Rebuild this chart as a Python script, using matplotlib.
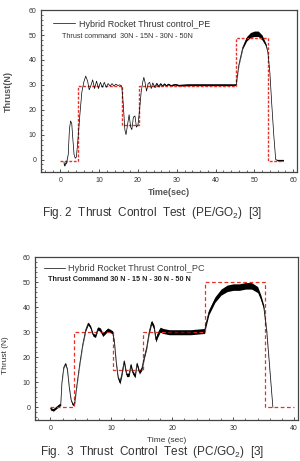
import numpy as np
import matplotlib.pyplot as plt

plt.rcParams['font.family'] = ['Liberation Sans', 'DejaVu Sans']
plt.rcParams['mathtext.fontset'] = 'custom'
plt.rcParams['mathtext.rm'] = 'Liberation Sans'

# Fig. 2 - PE/GO2 thrust
t_pe = [0.9, 1.0, 1.3, 1.6, 2.0, 2.3, 2.6, 2.9, 3.2, 3.5, 3.8, 4.1, 4.5, 5.0, 5.5,
        6.0, 6.5, 7.0, 7.4, 7.8, 8.3, 8.8, 9.3, 9.8, 10.3, 10.8, 11.3, 11.8, 12.3,
        12.8, 13.3, 13.8, 14.3, 14.8, 15.3, 15.8, 16.2, 16.6, 16.9, 17.3, 17.7,
        18.1, 18.4, 18.8, 19.2, 19.6, 20.0, 20.4, 20.8, 21.2, 21.5, 21.8, 22.2,
        22.6, 23.0, 23.4, 23.8, 24.3, 24.8, 25.3, 25.8, 26.3, 26.8, 27.3, 27.8,
        28.5, 29.5, 30.5, 33.0, 36.0, 39.0, 42.0, 45.3, 46.0, 47.0, 48.0, 49.0,
        50.0, 51.0, 52.0, 53.0, 53.5, 54.0, 54.5, 55.0, 55.5, 56.0, 57.5]
f_pe = [-1.0, -2.5, -1.5, -1.0, 2.0, 12.0, 15.5, 14.5, 8.0, 2.0, 0.5, 1.0, 8.0, 18.0,
        27.0, 31.0, 33.5, 31.5, 28.0, 29.5, 32.0, 28.5, 31.5, 28.5, 31.0, 29.0,
        31.0, 29.0, 30.5, 29.5, 30.5, 29.5, 30.3, 29.7, 30.0, 29.5, 22.0, 12.0,
        10.0, 14.0, 18.0, 13.0, 12.0, 17.0, 17.5, 13.0, 14.0, 20.0, 27.0, 31.0,
        33.0, 31.0, 27.5, 30.5, 31.0, 28.5, 30.8, 29.0, 30.6, 29.3, 30.5, 29.5,
        30.4, 29.6, 30.3, 29.7, 30.2, 29.8, 30.0, 30.0, 30.0, 30.0, 30.0, 38.0,
        45.0, 48.5, 50.0, 50.5, 50.5, 49.0, 46.0, 43.0, 35.0, 22.0, 10.0, 0.0,
        -0.3, -0.3]
# thickness of the noisy band around the trace
a_pe = [0.3, 0.3, 0.3, 0.2, 0, 0, 0, 0, 0, 0, 0, 0, 0, 0, 0,
        0, 0, 0, 0, 0, 0, 0, 0, 0, 0, 0, 0, 0, 0,
        0, 0, 0, 0, 0, 0, 0, 0, 0, 0, 0, 0,
        0, 0, 0, 0, 0, 0, 0, 0, 0, 0, 0, 0,
        0, 0, 0, 0, 0.2, 0.3, 0.3, 0.3, 0.3, 0.3, 0.3, 0.3,
        0.3, 0.3, 0.35, 0.35, 0.35, 0.35, 0.35, 0.3, 0.3, 0.5, 0.9, 1.0,
        1.1, 1.1, 1.0, 0.5, 0, 0, 0, 0, 0, 0.3, 0.3]
t_cmd_pe = [0, 4.5, 4.5, 15.8, 15.8, 20.3, 20.3, 45.3, 45.3, 53.5, 53.5, 57.5]
f_cmd_pe = [-0.5, -0.5, 29.5, 29.5, 14.0, 14.0, 29.5, 29.5, 49.0, 49.0, -0.5, -0.5]

# Fig. 3 - PC/GO2 thrust
t_pc = [0.0, 0.5, 1.0, 1.5, 1.7, 1.9, 2.2, 2.5, 2.8, 3.1, 3.4, 3.7, 4.0, 4.3, 4.8,
        5.3, 5.8, 6.2, 6.6, 7.0, 7.4, 7.8, 8.2, 8.6, 9.0, 9.4, 9.8, 10.2, 10.5,
        10.8, 11.1, 11.4, 11.7, 12.1, 12.5, 12.9, 13.2, 13.5, 13.9, 14.2, 14.6,
        15.0, 15.4, 15.8, 16.2, 16.6, 17.0, 17.3, 17.6, 18.0, 18.5, 19.5, 21.0,
        23.0, 25.3, 25.5, 26.0, 27.0, 28.0, 29.0, 30.0, 31.0, 32.0, 33.0, 34.0,
        34.5, 35.0, 35.5, 36.0, 36.5]
f_pc = [-0.5, -1.0, 0.0, 1.0, 1.0, 10.0, 16.0, 17.5, 15.0, 8.0, 3.0, 1.0, 2.0, 8.0,
        17.0, 25.0, 31.0, 33.5, 32.0, 29.0, 28.5, 31.5, 31.0, 29.0, 30.0, 31.0,
        30.5, 30.0, 26.0, 18.0, 12.0, 10.0, 13.0, 18.5, 13.0, 13.0, 17.0, 14.0,
        12.5, 17.5, 14.0, 15.5, 20.0, 24.0, 30.0, 34.0, 32.0, 27.0, 29.0, 31.0,
        30.5, 30.0, 30.0, 30.0, 30.5, 33.0, 38.0, 43.0, 46.0, 47.5, 48.0, 48.0,
        48.5, 48.5, 47.0, 44.0, 40.0, 30.0, 15.0, 0.0]
a_pc = [0.5, 0.5, 0.5, 0.5, 0.3, 0.3, 0.3, 0.3, 0.3, 0.3, 0.3, 0.4, 0.4, 0.4, 0.4,
        0.4, 0.5, 0.6, 0.6, 0.6, 0.6, 0.7, 0.7, 0.7, 0.7, 0.7, 0.7, 0.6, 0.5,
        0.5, 0.6, 0.7, 0.7, 0.7, 0.7, 0.7, 0.7, 0.7, 0.7, 0.7, 0.7,
        0.7, 0.6, 0.6, 0.7, 0.8, 0.9, 1.0, 1.0, 1.0, 1.0, 1.0, 1.0,
        1.0, 1.0, 1.0, 1.0, 1.1, 1.2, 1.3, 1.3, 1.3, 1.3, 1.3, 1.2,
        1.0, 0.8, 0.4, 0.2, 0.0]
t_cmd_pc = [0, 3.8, 3.8, 10.3, 10.3, 15.2, 15.2, 25.3, 25.3, 35.2, 35.2, 40.0]
f_cmd_pc = [0, 0, 30, 30, 15, 15, 30, 30, 50, 50, 0, 0]

fig = plt.figure(figsize=(3.0, 4.61), dpi=100)
gray = '#333333'


def style(ax, xlim, xticks):
    ax.set_xlim(*xlim)
    ax.set_ylim(-5, 60)
    ax.set_xticks(xticks)
    ax.set_yticks([0, 10, 20, 30, 40, 50, 60])
    ax.minorticks_on()
    ax.tick_params(which='both', direction='in', labelsize=5, colors=gray,
                   top=False, right=False)
    ax.tick_params(which='major', length=2.5, width=0.6)
    ax.tick_params(which='minor', length=1.3, width=0.5)
    for s in ax.spines.values():
        s.set_linewidth(0.9)
        s.set_color('#444444')


# ---- top chart
ax1 = fig.add_axes([0.137, 0.627, 0.853, 0.351])
ax1.plot(t_cmd_pe, f_cmd_pe, color='#e8302a', ls=(0, (2, 1.2)), lw=1.0)
t = np.array(t_pe); f = np.array(f_pe); a = np.array(a_pe)
ax1.fill_between(t, f - a, f + a, color='black', lw=0)
ax1.plot(t, f, color='black', lw=0.5, label='Hybrid Rocket Thrust control_PE')
style(ax1, (-5, 61), [0, 10, 20, 30, 40, 50, 60])
ax1.set_xlabel('Time(sec)', fontsize=6.5, fontweight='bold', color='#555555', labelpad=3)
ax1.set_ylabel('Thrust(N)', fontsize=6.5, fontweight='bold', color='#555555')
ax1.yaxis.set_label_coords(-0.11, 0.5)
ax1.legend(loc='upper left', bbox_to_anchor=(0.03, 0.97), frameon=False, fontsize=6.5,
           handlelength=2.4, handletextpad=0.4, borderpad=0, labelcolor='#333333')
ax1.text(0.08, 0.84, 'Thrust command  30N - 15N - 30N - 50N', transform=ax1.transAxes,
         fontsize=5.2, color='#333333', va='center')

fig.text(0.507, 0.538, 'Fig. 2  Thrust  Control  Test  (PE/GO$_{2}$)  [3]',
         ha='center', va='center', fontsize=8.5, color='#333333')

# ---- bottom chart
ax2 = fig.add_axes([0.117, 0.089, 0.876, 0.3535])
ax2.plot(t_cmd_pc, f_cmd_pc, color='#e8302a', ls=(0, (3, 2)), lw=0.9)
t = np.array(t_pc); f = np.array(f_pc); a = np.array(a_pc)
ax2.fill_between(t, f - a, f + a, color='black', lw=0)
ax2.plot(t, f, color='black', lw=0.5, label='Hybrid Rocket Thrust Control_PC')
style(ax2, (-2.5, 40.6), [0, 10, 20, 30, 40])
ax2.set_xlabel('Time (sec)', fontsize=6, color='#333333', labelpad=4)
ax2.set_ylabel('Thrust (N)', fontsize=6, color='#333333')
ax2.yaxis.set_label_coords(-0.1, 0.4)
ax2.legend(loc='upper left', bbox_to_anchor=(0.015, 0.985), frameon=False, fontsize=6.6,
           handlelength=2.3, handletextpad=0.35, borderpad=0, labelcolor='#444444')
ax2.text(0.05, 0.86, 'Thrust Command 30 N - 15 N - 30 N - 50 N', transform=ax2.transAxes,
         fontsize=5.2, fontweight='bold', color='#222222', va='center')

fig.text(0.507, 0.003, 'Fig.  3  Thrust  Control  Test  (PC/GO$_{2}$)  [3]',
         ha='center', va='bottom', fontsize=8.5, color='#333333')

fig.savefig('out.png', dpi=100)
